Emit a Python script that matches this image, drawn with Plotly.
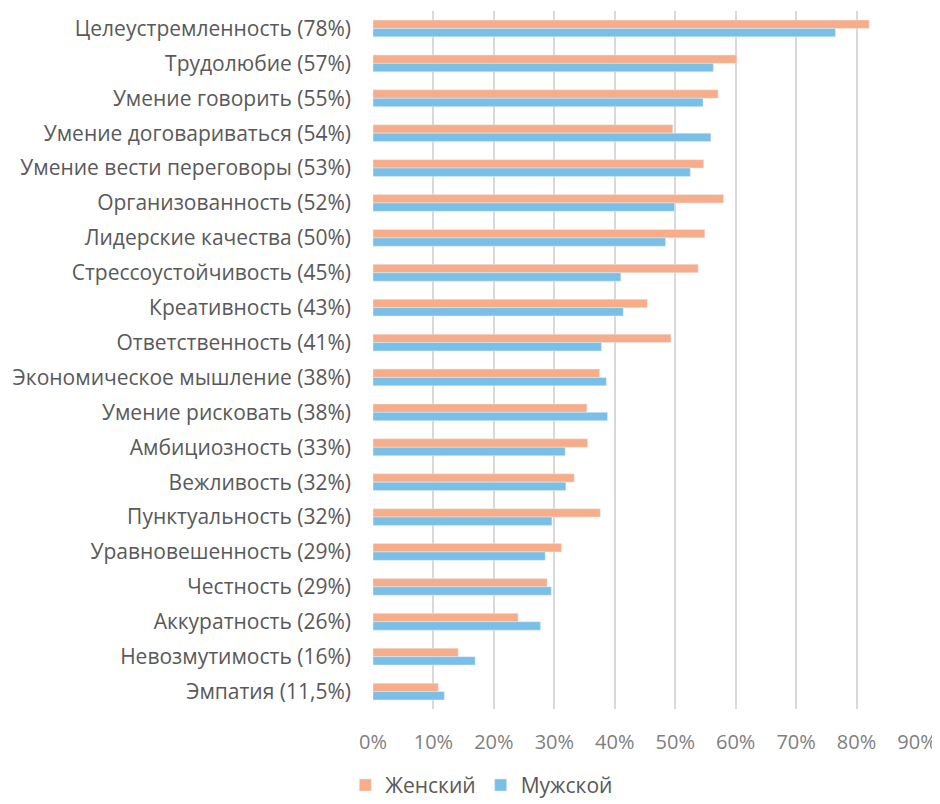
import plotly.graph_objects as go

categories = [
    "Целеустремленность (78%)", "Трудолюбие (57%)", "Умение говорить (55%)",
    "Умение договариваться (54%)", "Умение вести переговоры (53%)",
    "Организованность (52%)", "Лидерские качества (50%)", "Стрессоустойчивость (45%)",
    "Креативность (43%)", "Ответственность (41%)", "Экономическое мышление (38%)",
    "Умение рисковать (38%)", "Амбициозность (33%)", "Вежливость (32%)",
    "Пунктуальность (32%)", "Уравновешенность (29%)", "Честность (29%)",
    "Аккуратность (26%)", "Невозмутимость (16%)", "Эмпатия (11,5%)",
]
female = [0.821, 0.602, 0.571, 0.496, 0.547, 0.580, 0.549, 0.538, 0.454, 0.493,
          0.375, 0.354, 0.355, 0.333, 0.376, 0.312, 0.288, 0.240, 0.141, 0.108]
male = [0.765, 0.563, 0.546, 0.559, 0.525, 0.499, 0.484, 0.410, 0.414, 0.378,
        0.386, 0.388, 0.318, 0.319, 0.296, 0.285, 0.295, 0.277, 0.169, 0.118]
x_ticks = [0, 0.1, 0.2, 0.3, 0.4, 0.5, 0.6, 0.7, 0.8, 0.9]

FONT = "Open Sans"

fig = go.Figure()
fig.add_trace(go.Bar(y=categories, x=female, orientation="h", name="Женский",
                     marker=dict(color="#F7AD89")))
fig.add_trace(go.Bar(y=categories, x=male, orientation="h", name="Мужской",
                     marker=dict(color="#7ABFE7")))

fig.update_layout(
    width=932, height=796,
    margin=dict(l=365, r=23, t=3, b=95, autoexpand=False),
    paper_bgcolor="white", plot_bgcolor="white",
    barmode="group", bargap=0.52, bargroupgap=0,
    font=dict(family=FONT, size=21, color="#595959"),
    showlegend=True,
    legend=dict(orientation="h", x=0.2, xanchor="center", y=-0.08, yanchor="top",
                font=dict(family=FONT, size=21, color="#595959"),
                traceorder="normal", itemwidth=30),
    xaxis=dict(range=[0, 0.9], tickvals=x_ticks, tickformat=".0%",
               showgrid=True, gridcolor="#D9D9D9", gridwidth=1.5,
               zeroline=False, showline=False, ticks="", automargin=False,
               tickfont=dict(family=FONT, size=20, color="#7F7F7F"),
               ticklabelstandoff=19),
    yaxis=dict(autorange="reversed", showgrid=False, zeroline=False,
               showline=False, ticks="", ticklabelstandoff=21, automargin=False,
               tickfont=dict(family=FONT, size=21, color="#595959")),
)

fig.write_html("out.html")
